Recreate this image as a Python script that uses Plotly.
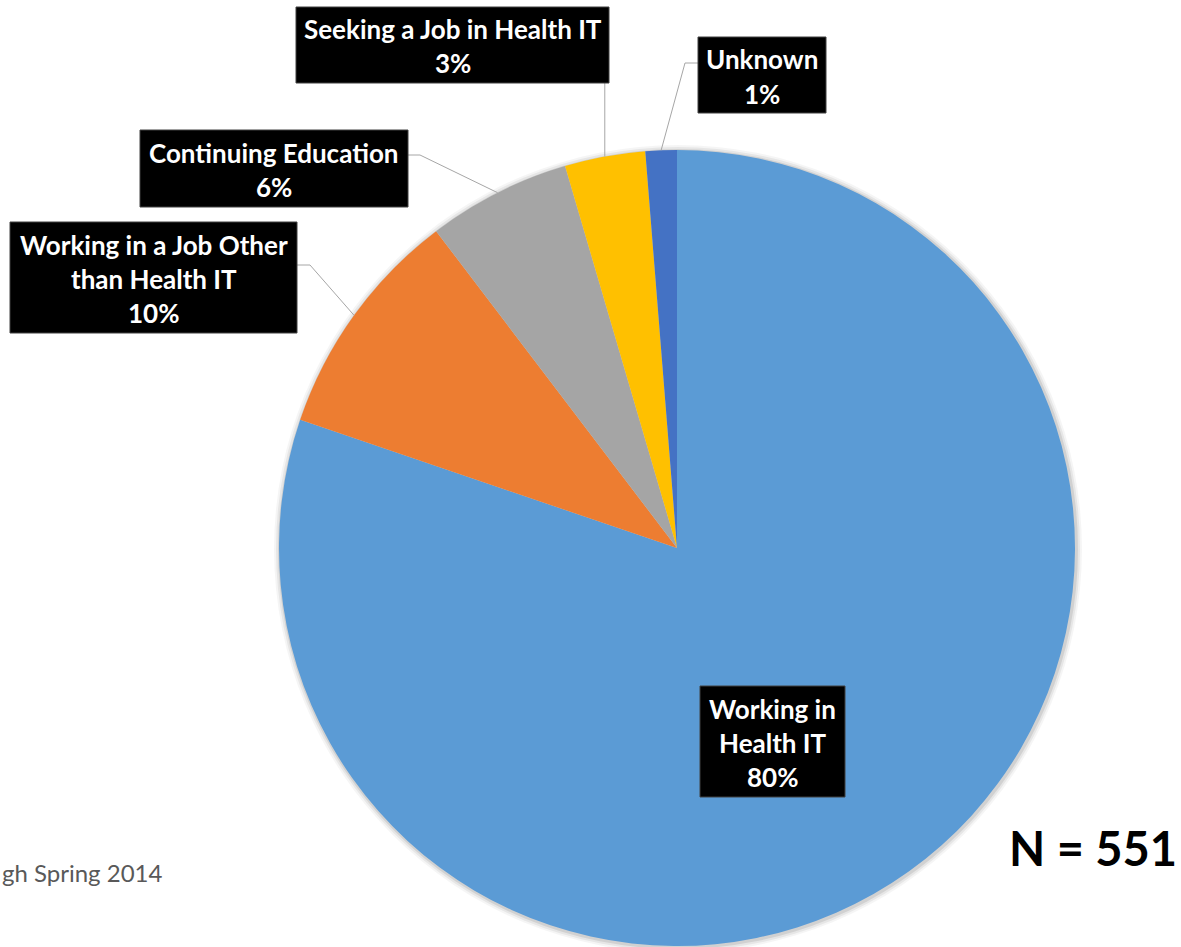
import math
import plotly.graph_objects as go

# ---- data ----
categories = ["Working in Health IT", "Working in a Job Other than Health IT",
              "Continuing Education", "Seeking a Job in Health IT", "Unknown"]
counts = [442, 52, 32, 18, 7]
pct_labels = ["80%", "10%", "6%", "3%", "1%"]
colors = ["#5B9BD5", "#ED7D31", "#A5A5A5", "#FFC000", "#4472C4"]
n_total = 551

W, H = 1181, 947
CX, CY, R = 677, 548, 398  # pie geometry in pixels


def px(x):
    return x / W


def py(y):
    return 1 - y / H


fig = go.Figure(go.Pie(
    labels=categories, values=counts, sort=False, direction="clockwise",
    rotation=0, marker=dict(colors=colors, line=dict(width=0)),
    textinfo="none", hoverinfo="label+percent", showlegend=False,
    domain=dict(x=[px(CX - R), px(CX + R)], y=[py(CY + R), py(CY - R)]),
))

# slice mid-angles (clockwise from 12 o'clock) computed from data
total = sum(counts)
mid_pts = []
cum = 0
for v in counts:
    a = (cum + v / 2) / total * 2 * math.pi
    mid_pts.append((CX + R * math.sin(a), CY - R * math.cos(a)))
    cum += v

shapes = []
annotations = []

# soft shadow around the pie
for k, op in [(6, 0.04), (4, 0.06), (2, 0.09)]:
    shapes.append(dict(type="circle", xref="paper", yref="paper", layer="below",
                       x0=px(CX - R - k + 1), x1=px(CX + R + k + 1),
                       y0=py(CY + R + k + 1), y1=py(CY - R - k + 1),
                       fillcolor=f"rgba(0,0,0,{op})", line=dict(width=0)))

# label boxes: (x0, y0, x1, y1), line texts, line centre ys
boxes = {
    0: ((700, 686, 845, 797), ["Working in", "Health IT", pct_labels[0]], [709, 743, 777]),
    1: ((10, 222, 297, 333), ["Working in a Job Other", "than Health IT", pct_labels[1]], [245, 279, 313]),
    2: ((140, 130, 408, 207), ["Continuing Education", pct_labels[2]], [153, 187]),
    3: ((296, 7, 609, 83), ["Seeking a Job in Health IT", pct_labels[3]], [29, 63]),
    4: ((698, 37, 826, 113), ["Unknown", pct_labels[4]], [59, 94]),
}

LINE_COL = "#A6A6A6"
mx, my = mid_pts[1]
shapes.append(dict(type="path", xref="paper", yref="paper",
                   path=f"M {px(297)} {py(265)} L {px(310)} {py(265)} L {px(mx)} {py(my)}",
                   line=dict(color=LINE_COL, width=1)))
mx, my = mid_pts[2]
shapes.append(dict(type="path", xref="paper", yref="paper",
                   path=f"M {px(408)} {py(155)} L {px(420)} {py(155)} L {px(mx)} {py(my)}",
                   line=dict(color=LINE_COL, width=1)))
mx, my = mid_pts[3]
shapes.append(dict(type="path", xref="paper", yref="paper",
                   path=f"M {px(mx)} {py(83)} L {px(mx)} {py(my)}",
                   line=dict(color=LINE_COL, width=1)))
mx, my = mid_pts[4]
shapes.append(dict(type="path", xref="paper", yref="paper",
                   path=f"M {px(698)} {py(63)} L {px(685)} {py(63)} L {px(mx)} {py(my)}",
                   line=dict(color=LINE_COL, width=1)))

FONT = "Lato"
for i, (box, lines, ys) in boxes.items():
    x0, y0, x1, y1 = box
    shapes.append(dict(type="rect", xref="paper", yref="paper", layer="above",
                       x0=px(x0), x1=px(x1), y0=py(y1), y1=py(y0),
                       fillcolor="black", line=dict(color="#404040", width=1)))
    for t, yy in zip(lines, ys):
        annotations.append(dict(text=f"<b>{t}</b>", x=px((x0 + x1) / 2), y=py(yy),
                                xref="paper", yref="paper", showarrow=False,
                                xanchor="center", yanchor="middle",
                                font=dict(family=FONT, size=26, color="white")))

annotations.append(dict(text=f"<b>N = {n_total}</b>", x=px(1179), y=py(848),
                        xref="paper", yref="paper", showarrow=False,
                        xanchor="right", yanchor="middle",
                        font=dict(family=FONT, size=47, color="black")))
annotations.append(dict(text="gh Spring 2014", x=px(0), y=py(872),
                        xref="paper", yref="paper", showarrow=False,
                        xanchor="left", yanchor="middle",
                        font=dict(family=FONT, size=24, color="#595959")))

fig.update_layout(width=W, height=H, margin=dict(l=0, r=0, t=0, b=0),
                  paper_bgcolor="white", plot_bgcolor="white",
                  shapes=shapes, annotations=annotations)

fig.write_html("out.html")
